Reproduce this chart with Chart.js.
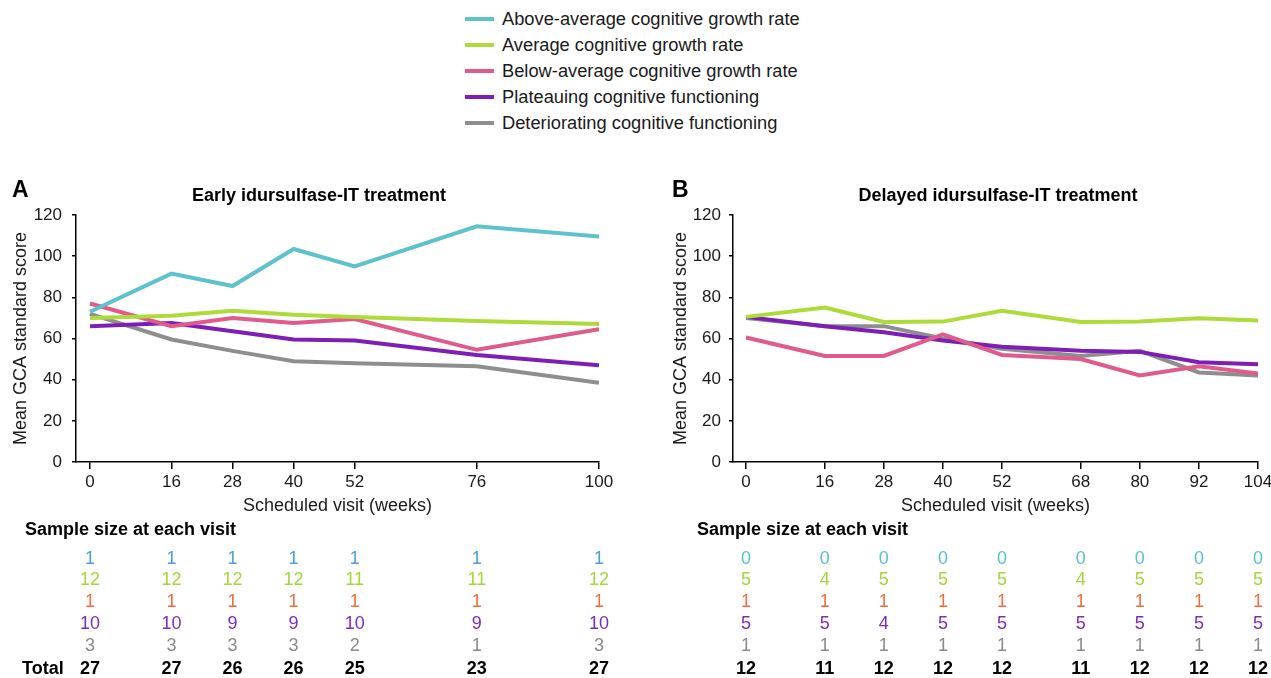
<!DOCTYPE html>
<html>
<head>
<meta charset="utf-8">
<script src="https://cdn.jsdelivr.net/npm/chart.js@4/dist/chart.umd.min.js"></script>
<style>
  body { margin: 0; width: 1271px; height: 678px; overflow: hidden; background: #fff; position: relative;
         font-family: 'Liberation Sans', Arial, sans-serif; color: #1a1a1a; }
  #legend { position: absolute; left: 465px; top: 6px; }
  .item { height: 26px; display: flex; align-items: center; font-size: 18.3px; }
  .item span { display: inline-block; width: 29px; height: 4px; margin-right: 8px; }
  canvas { position: absolute; top: 170px; }
  #chartA { left: 0; }
  #chartB { left: 660px; }
</style>
</head>
<body>
<div id="legend"></div>
<canvas id="chartA" width="640" height="508"></canvas>
<canvas id="chartB" width="625" height="508"></canvas>
<script>
// series names and colours
var seriesNames = [
  "Above-average cognitive growth rate",
  "Average cognitive growth rate",
  "Below-average cognitive growth rate",
  "Plateauing cognitive functioning",
  "Deteriorating cognitive functioning"
];
var lineColors = ["#5EC2CC", "#ADDC3A", "#E05A8C", "#7D1FB5", "#8E8E8E"];

// A: early treatment
var weeksA = [0, 16, 28, 40, 52, 76, 100];
var aboveA = [73, 91.5, 85.5, 103.5, 95, 114.5, 109.5];
var averageA = [70, 71, 73.5, 71.5, 70.5, 68.5, 67];
var belowA = [77, 66, 70, 67.5, 69.5, 54.5, 64.5];
var plateauA = [66, 67.5, 63.5, 59.5, 59, 52, 47];
var deterA = [72, 59.5, 54, 49, 48, 46.5, 38.5];

// B: delayed treatment
var weeksB = [0, 16, 28, 40, 52, 68, 80, 92, 104];
var averageB = [70.5, 75, 68, 68.2, 73.5, 68, 68.3, 69.8, 68.8];
var belowB = [60.5, 51.5, 51.5, 62, 52, 50, 42, 46.5, 43];
var plateauB = [70.5, 66, 63, 59, 56, 54, 53.5, 48.5, 47.5];
var deterB = [70, 66, 66, 60, 55, 51.5, 54, 43.5, 42];

// sample sizes
var nAboveA = [1, 1, 1, 1, 1, 1, 1];
var nAverageA = [12, 12, 12, 12, 11, 11, 12];
var nBelowA = [1, 1, 1, 1, 1, 1, 1];
var nPlateauA = [10, 10, 9, 9, 10, 9, 10];
var nDeterA = [3, 3, 3, 3, 2, 1, 3];
var totalA = [27, 27, 26, 26, 25, 23, 27];

var nAboveB = [0, 0, 0, 0, 0, 0, 0, 0, 0];
var nAverageB = [5, 4, 5, 5, 5, 4, 5, 5, 5];
var nBelowB = [1, 1, 1, 1, 1, 1, 1, 1, 1];
var nPlateauB = [5, 5, 4, 5, 5, 5, 5, 5, 5];
var nDeterB = [1, 1, 1, 1, 1, 1, 1, 1, 1];
var totalB = [12, 11, 12, 12, 12, 11, 12, 12, 12];

var FONT = "'Liberation Sans', Arial, sans-serif";
Chart.defaults.font.family = FONT;
Chart.defaults.color = "#1a1a1a";

// legend
var legend = document.getElementById("legend");
seriesNames.forEach(function(name, i) {
  var d = document.createElement("div");
  d.className = "item";
  d.innerHTML = '<span style="background:' + lineColors[i] + '"></span>' + name;
  legend.appendChild(d);
});

function toPoints(weeks, vals) {
  return weeks.map(function(w, i) { return { x: w, y: vals[i] }; });
}

function makeSet(idx, weeks, vals) {
  return {
    label: seriesNames[idx],
    data: toPoints(weeks, vals),
    borderColor: lineColors[idx],
    backgroundColor: lineColors[idx],
    borderWidth: 4,
    pointRadius: 0,
    tension: 0
  };
}

// draws panel letter, title and the sample-size table under the x axis
var panelText = {
  id: "panelText",
  afterDraw: function(chart, args, opts) {
    var ctx = chart.ctx, xs = chart.scales.x;
    ctx.save();
    ctx.fillStyle = "#000";
    ctx.textBaseline = "middle";
    ctx.textAlign = "left";
    ctx.font = "bold 23px " + FONT;
    ctx.fillText(opts.letter, opts.letterX, 21);
    ctx.textAlign = "center";
    ctx.font = "bold 18px " + FONT;
    ctx.fillText(opts.title, opts.titleX, 26);
    ctx.textAlign = "left";
    ctx.fillText("Sample size at each visit", opts.headX, 360);
    if (opts.totalLabel) ctx.fillText("Total", 22, 499);

    var rowY = [389, 410, 432, 454, 476, 499];
    ctx.textAlign = "center";
    opts.rows.forEach(function(row, r) {
      ctx.fillStyle = opts.rowColors[r];
      ctx.font = (r === 5 ? "bold " : "") + "18px " + FONT;
      row.forEach(function(v, i) {
        ctx.fillText(String(v), xs.getPixelForValue(opts.weeks[i]), rowY[r]);
      });
    });
    ctx.restore();
  }
};

function makeChart(id, cfg) {
  return new Chart(document.getElementById(id), {
    type: "line",
    data: { datasets: cfg.datasets },
    plugins: [panelText],
    options: {
      responsive: false,
      animation: false,
      layout: { padding: { left: 0, right: cfg.padRight, top: 45, bottom: 161 } },
      plugins: {
        legend: { display: false },
        tooltip: { enabled: false },
        panelText: cfg.text
      },
      scales: {
        x: {
          type: "linear",
          min: cfg.xMin,
          max: cfg.xMax,
          afterBuildTicks: function(s) { s.ticks = cfg.weeks.map(function(v) { return { value: v }; }); },
          afterFit: function(s) { s.height = 55; },
          grid: { drawOnChartArea: false, tickLength: 7, color: "#000", lineWidth: 1.5 },
          border: { color: "#000", width: 1.5 },
          ticks: { font: { size: 17 }, padding: 3, maxRotation: 0, autoSkip: false },
          title: { display: true, text: "Scheduled visit (weeks)", font: { size: 18 }, padding: { top: 0, bottom: 0 } }
        },
        y: {
          min: 0,
          max: 120,
          afterFit: function(s) { s.width = cfg.yWidth; },
          grid: { drawOnChartArea: false, tickLength: 4, color: "#000", lineWidth: 1.5 },
          border: { color: "#000", width: 1.5 },
          ticks: { stepSize: 20, font: { size: 17 }, padding: cfg.yPad },
          title: { display: true, text: "Mean GCA standard score", font: { size: 18 }, padding: { top: 10, bottom: 0 } }
        }
      }
    }
  });
}

makeChart("chartA", {
  weeks: weeksA, xMin: -2.75, xMax: 100, padRight: 41, yWidth: 76, yPad: 10,
  datasets: [
    makeSet(0, weeksA, aboveA),
    makeSet(1, weeksA, averageA),
    makeSet(2, weeksA, belowA),
    makeSet(3, weeksA, plateauA),
    makeSet(4, weeksA, deterA)
  ],
  text: {
    letter: "A", letterX: 12, title: "Early idursulfase-IT treatment", titleX: 319, headX: 25,
    totalLabel: true, weeks: weeksA,
    rows: [nAboveA, nAverageA, nBelowA, nPlateauA, nDeterA, totalA],
    rowColors: ["#4A9FD8", "#A5D63C", "#F26B3A", "#7B2CBF", "#8A8A8A", "#000"]
  }
});

makeChart("chartB", {
  weeks: weeksB, xMin: -2.64, xMax: 104, padRight: 27, yWidth: 73, yPad: 8,
  datasets: [
    makeSet(1, weeksB, averageB),
    makeSet(2, weeksB, belowB),
    makeSet(3, weeksB, plateauB),
    makeSet(4, weeksB, deterB)
  ],
  text: {
    letter: "B", letterX: 12, title: "Delayed idursulfase-IT treatment", titleX: 338, headX: 37,
    totalLabel: false, weeks: weeksB,
    rows: [nAboveB, nAverageB, nBelowB, nPlateauB, nDeterB, totalB],
    rowColors: ["#5BC0CB", "#A5D63C", "#F26B3A", "#7B2CBF", "#8A8A8A", "#000"]
  }
});
</script>
</body>
</html>
